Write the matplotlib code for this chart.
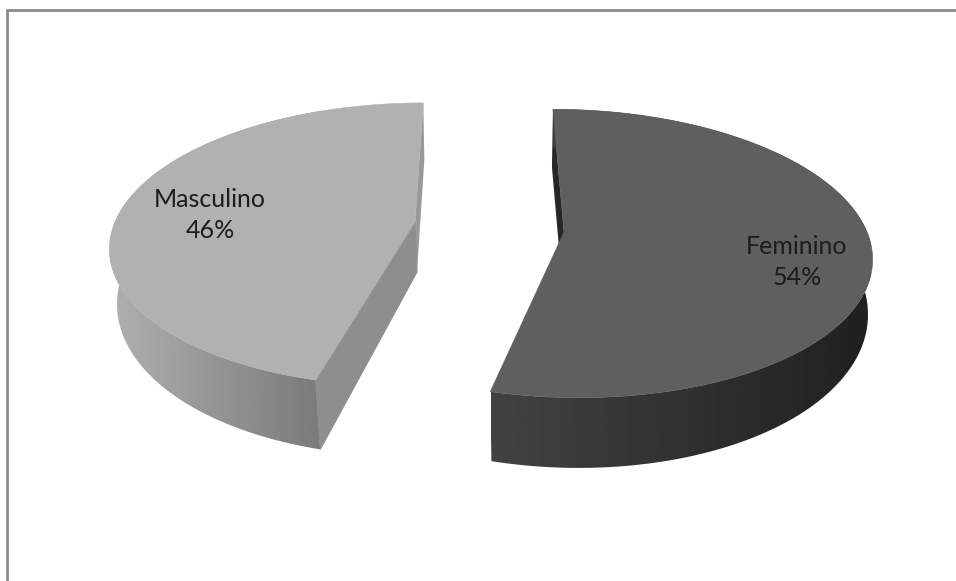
import matplotlib
matplotlib.use("Agg")
import matplotlib.pyplot as plt
import numpy as np
from matplotlib.patches import Polygon

labels = ["Feminino", "Masculino"]
values = [54, 46]

WIDTH = 956
HEIGHT = 581
BORDER = "#8c8c8c"

plt.rcParams["font.family"] = ["Lato", "DejaVu Sans"]

# Projection of each exploded slice: hub, radii, perspective, shear
FEM = dict(cx=564, cy=232, r=303, rb=141, p=0.149, k=0.09)
MAS = dict(cx=415, cy=222, r=300, rb=138, p=0.159, k=-0.07)


def project(view, theta):
    # theta in degrees, clockwise from the far side of the pie
    t = np.radians(theta)
    s = 1 / (1 + view["p"] * np.cos(t))
    y = -view["rb"] * np.cos(t) * s
    x = view["r"] * np.sin(t) * s + view["k"] * y
    return view["cx"] + x, view["cy"] + y


def lower(view, x, y, depth=52, grow=0.11, squeeze=0.985, shift=0):
    # Matching point on the underside of the slice
    bx = view["cx"] + squeeze * (x - view["cx"]) + shift
    return bx, y + depth + grow * (y - view["cy"])


def gradient_wall(ax, x, y, x0, x1, c0, c1):
    patch = Polygon(np.column_stack([x, y]), closed=True, fc="none", ec="none")
    ax.add_patch(patch)
    ramp = np.linspace(c0, c1, 256).reshape(1, -1)
    im = ax.imshow(ramp, extent=[x0, x1, HEIGHT, 0], cmap="gray", vmin=0, vmax=255,
                   aspect="auto", zorder=2)
    im.set_clip_path(patch)


fig = plt.figure(figsize=(WIDTH / 100, HEIGHT / 100), dpi=100)
ax = fig.add_axes([0, 0, 1, 1])
ax.set_xlim(0, WIDTH)
ax.set_ylim(HEIGHT, 0)
ax.axis("off")

split = 360 * values[0] / sum(values)

# Feminino: 0 -> split
theta = np.linspace(0, split, 200)
fx, fy = project(FEM, theta)
bx, by = lower(FEM, fx, fy)
hub_b = (FEM["cx"] - 2, FEM["cy"] + 50)
back_b = (fx[0] - 1, fy[0] + 58)
ax.add_patch(Polygon([(fx[0], fy[0]), (FEM["cx"], FEM["cy"]), hub_b, back_b],
                     fc="#272727", ec="none", zorder=1))
gradient_wall(ax, np.r_[fx, bx[::-1]], np.r_[fy, by[::-1]], 491, 871, 66, 32)
ax.add_patch(Polygon(np.column_stack([np.r_[FEM["cx"], fx], np.r_[FEM["cy"], fy]]),
                     fc="#5f5f5f", ec="#5f5f5f", lw=0.4, zorder=3))

# Masculino: split -> 360
theta = np.linspace(split, 360, 200)
mx, my = project(MAS, theta)
bx, by = lower(MAS, mx, my, shift=3)
front_b = (bx[0], by[0])
hub_b = (MAS["cx"] + 2, MAS["cy"] + 50)
back_b = (mx[-1] + 1, my[-1] + 57)
gradient_wall(ax, np.r_[mx, bx[::-1]], np.r_[my, by[::-1]], 110, 321, 176, 122)
ax.add_patch(Polygon([(MAS["cx"], MAS["cy"]), (mx[-1], my[-1]), back_b, hub_b],
                     fc="#999999", ec="none", zorder=3))
ax.add_patch(Polygon([(mx[0], my[0]), (MAS["cx"], MAS["cy"]), hub_b, front_b],
                     fc="#8e8e8e", ec="#8e8e8e", lw=0.8, zorder=3))
ax.add_patch(Polygon(np.column_stack([np.r_[MAS["cx"], mx], np.r_[MAS["cy"], my]]),
                     fc="#b1b1b1", ec="#b1b1b1", lw=0.4, zorder=4))

# Data labels sit on the top faces
ax.text(797, 262, f"{labels[0]}\n{values[0]}%", ha="center", va="center", fontsize=18,
        color="#1c1c1c", linespacing=1.47, zorder=5)
ax.text(210, 215, f"{labels[1]}\n{values[1]}%", ha="center", va="center", fontsize=18,
        color="#1c1c1c", linespacing=1.47, zorder=5)

# Chart area outline, cut off at the bottom and right
ax.plot([7, 7], [HEIGHT, 10], color=BORDER, lw=2, zorder=6, solid_capstyle="projecting")
ax.plot([7, WIDTH], [10, 10], color=BORDER, lw=2, zorder=6, solid_capstyle="butt")

fig.savefig("out.png", dpi=100)
